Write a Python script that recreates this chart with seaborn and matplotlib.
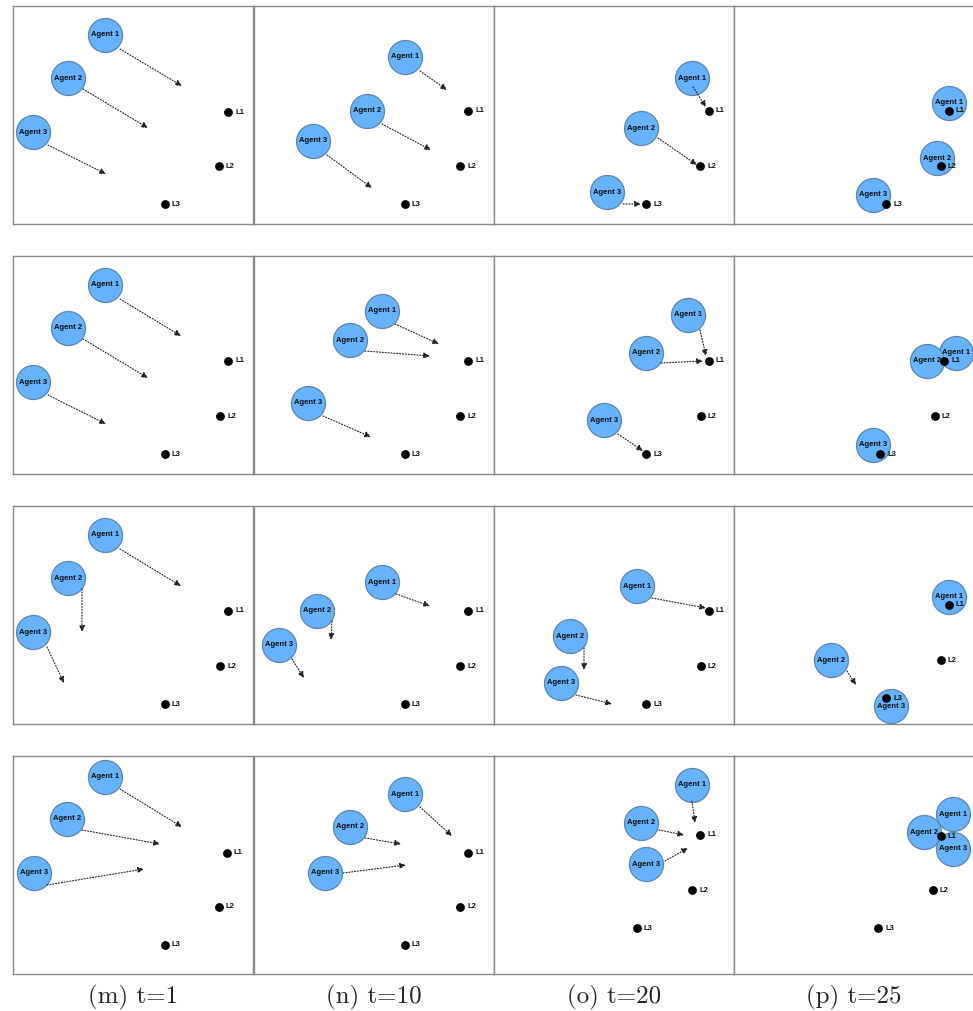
import pandas as pd
import seaborn as sns
import matplotlib.pyplot as plt

# Positions are in panel pixels: x to the right, y downwards (panel is 240 x 218).
captions = ["(m) t=1", "(n) t=10", "(o) t=20", "(p) t=25"]
agent_names = ["Agent 1", "Agent 2", "Agent 3"]
landmark_names = ["L1", "L2", "L3"]

# one entry per panel (m, n, o, p), three agents / landmarks per panel
agents_row1 = [[(92, 29), (55, 72), (20, 126)], [(151, 51), (113, 105), (59, 135)],
               [(198, 72), (147, 122), (113, 186)], [(215, 97), (203, 152), (139, 189)]]
agents_row2 = [[(92, 29), (55, 72), (20, 126)], [(128, 55), (96, 84), (54, 147)],
               [(194, 59), (152, 97), (110, 164)], [(222, 97), (193, 105), (139, 189)]]
agents_row3 = [[(92, 29), (55, 72), (20, 126)], [(128, 76), (63, 105), (25, 139)],
               [(143, 80), (76, 130), (67, 177)], [(215, 91), (97, 154), (157, 200)]]
agents_row4 = [[(92, 21), (54, 63), (21, 117)], [(151, 38), (96, 71), (71, 117)],
               [(198, 29), (147, 67), (152, 108)], [(219, 58), (190, 76), (219, 93)]]

landmarks_row1 = [[(215, 106), (206, 160), (152, 198)], [(214, 105), (206, 160), (151, 198)],
                  [(215, 105), (206, 160), (152, 198)], [(215, 105), (207, 160), (152, 198)]]
landmarks_row2 = [[(215, 105), (207, 160), (152, 198)], [(214, 105), (206, 160), (151, 198)],
                  [(215, 105), (207, 160), (152, 198)], [(210, 105), (201, 160), (146, 198)]]
landmarks_row3 = [[(215, 105), (207, 160), (152, 198)], [(214, 105), (206, 160), (151, 198)],
                  [(215, 105), (207, 160), (152, 198)], [(215, 99), (207, 154), (152, 192)]]
landmarks_row4 = [[(214, 97), (206, 151), (152, 189)], [(214, 97), (206, 151), (151, 189)],
                  [(206, 79), (198, 134), (143, 172)], [(207, 80), (199, 134), (144, 172)]]

# velocity arrows: (start, end) per agent, None when the agent is not moving
arrows_row1 = [[((107, 43), (169, 80)), ((70, 83), (135, 122)), ((35, 139), (93, 168))],
               [((166, 65), (193, 84)), ((128, 118), (177, 144)), ((73, 149), (118, 182))],
               [((199, 81), (212, 101)), ((164, 132), (203, 159)), ((129, 198), (147, 198))],
               [None, None, None]]
arrows_row2 = [[((107, 43), (168, 80)), ((70, 83), (135, 122)), ((35, 139), (93, 168))],
               [((141, 68), (185, 88)), ((111, 95), (176, 100)), ((69, 160), (117, 181))],
               [((206, 74), (212, 100)), ((167, 107), (209, 105)), ((124, 178), (149, 195))],
               [None, None, None]]
arrows_row3 = [[((107, 43), (168, 80)), ((69, 83), (69, 126)), ((34, 141), (51, 177))],
               [((142, 88), (176, 100)), ((78, 115), (77, 134)), ((38, 153), (50, 172))],
               [((158, 92), (212, 102)), ((90, 142), (90, 164)), ((82, 189), (118, 198))],
               [None, ((113, 165), (122, 179)), None]]
arrows_row4 = [[((107, 33), (169, 71)), ((69, 74), (147, 88)), ((34, 129), (131, 113))],
               [((166, 51), (198, 80)), ((111, 82), (147, 88)), ((89, 117), (152, 109))],
               [((198, 45), (201, 67)), ((165, 74), (190, 79)), ((171, 105), (194, 92))],
               [None, None, None]]

rows = [(agents_row1, landmarks_row1, arrows_row1),
        (agents_row2, landmarks_row2, arrows_row2),
        (agents_row3, landmarks_row3, arrows_row3),
        (agents_row4, landmarks_row4, arrows_row4)]

sns.set_style("white")
plt.rcParams["font.family"] = ["Liberation Sans", "DejaVu Sans"]

W, H = 973, 1011
fig = plt.figure(figsize=(W / 100, H / 100), dpi=100)

col_x = [13, 254, 494, 734]
row_y = [6, 256, 506, 756]
pw, ph = 240, 218

for r, (agents, landmarks, arrows) in enumerate(rows):
    for c in range(4):
        ax = fig.add_axes([col_x[c] / W, 1 - (row_y[r] + ph) / H, pw / W, ph / H])
        df_a = pd.DataFrame(agents[c], columns=["x", "y"])
        df_a["name"] = agent_names
        df_l = pd.DataFrame(landmarks[c], columns=["x", "y"])
        df_l["name"] = landmark_names

        sns.scatterplot(data=df_a, x="x", y="y", s=600, color="#66b2ff",
                        edgecolor="#5b85b0", linewidth=0.9, ax=ax, legend=False, zorder=3)
        for _, a in df_a.iterrows():
            ax.text(a.x, a.y, a["name"], ha="center", va="center", fontsize=5.5,
                    fontweight="bold", color="#111", zorder=6)

        for arr in arrows[c]:
            if arr is None:
                continue
            ax.annotate("", xy=arr[1], xytext=arr[0], zorder=4,
                        arrowprops=dict(arrowstyle="-|>,head_length=0.45,head_width=0.22",
                                        color="#222", lw=0.8, linestyle=(0, (1, 1.6)),
                                        shrinkA=0, shrinkB=0, mutation_scale=8))

        sns.scatterplot(data=df_l, x="x", y="y", s=40, color="black", edgecolor="black",
                        linewidth=0, ax=ax, legend=False, zorder=7)
        for _, l in df_l.iterrows():
            ax.text(l.x + 7, l.y, l["name"], ha="left", va="center", fontsize=5.5,
                    fontweight="bold", color="#111", zorder=8)

        ax.set_xlim(0, pw)
        ax.set_ylim(ph, 0)
        ax.set_xticks([])
        ax.set_yticks([])
        ax.set_xlabel("")
        ax.set_ylabel("")
        for sp in ax.spines.values():
            sp.set_color("#8a8a8a")
            sp.set_linewidth(1.0)

for c, cap in enumerate(captions):
    fig.text((col_x[c] + pw / 2) / W, 1 - 997 / H, cap, ha="center", va="center",
             fontsize=18, family="cmr10")

fig.savefig("out.png", dpi=100)
